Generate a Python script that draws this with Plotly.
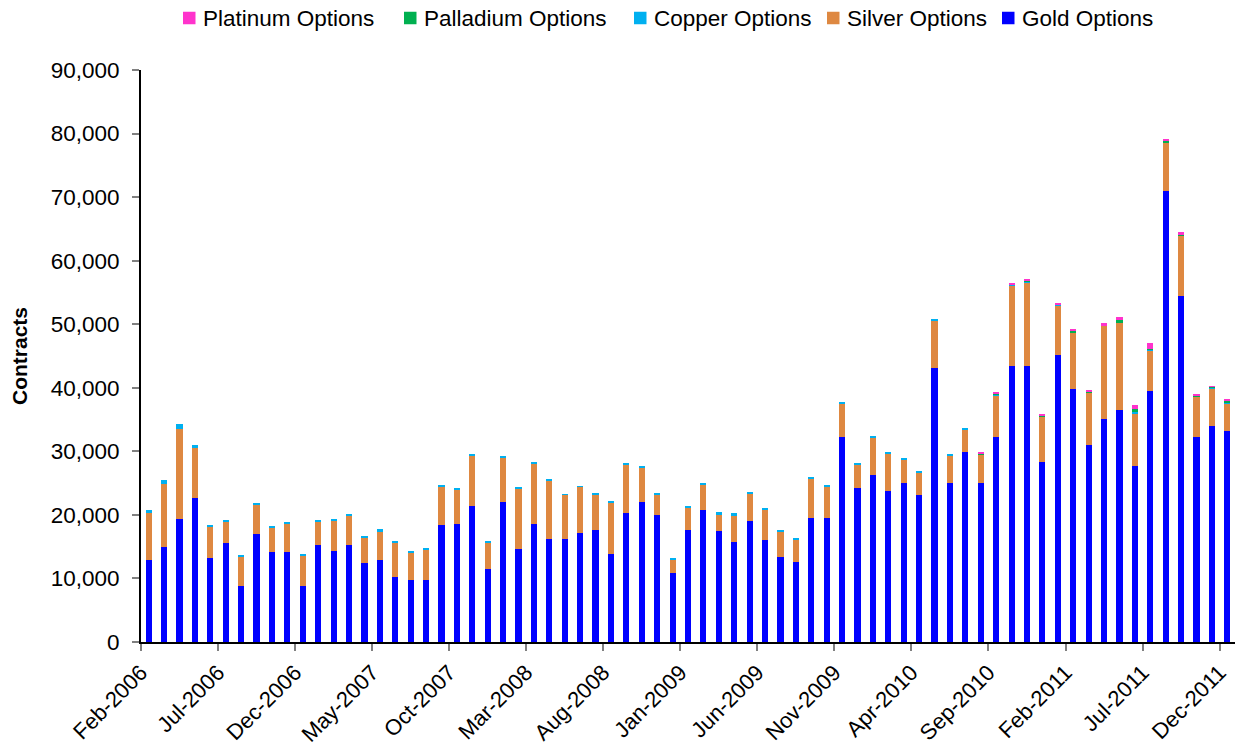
import plotly.graph_objects as go

months = ["Feb-2006", "Mar-2006", "Apr-2006", "May-2006", "Jun-2006", "Jul-2006", "Aug-2006", "Sep-2006", "Oct-2006", "Nov-2006", "Dec-2006",
          "Jan-2007", "Feb-2007", "Mar-2007", "Apr-2007", "May-2007", "Jun-2007", "Jul-2007", "Aug-2007", "Sep-2007", "Oct-2007", "Nov-2007", "Dec-2007",
          "Jan-2008", "Feb-2008", "Mar-2008", "Apr-2008", "May-2008", "Jun-2008", "Jul-2008", "Aug-2008", "Sep-2008", "Oct-2008", "Nov-2008", "Dec-2008",
          "Jan-2009", "Feb-2009", "Mar-2009", "Apr-2009", "May-2009", "Jun-2009", "Jul-2009", "Aug-2009", "Sep-2009", "Oct-2009", "Nov-2009", "Dec-2009",
          "Jan-2010", "Feb-2010", "Mar-2010", "Apr-2010", "May-2010", "Jun-2010", "Jul-2010", "Aug-2010", "Sep-2010", "Oct-2010", "Nov-2010", "Dec-2010",
          "Jan-2011", "Feb-2011", "Mar-2011", "Apr-2011", "May-2011", "Jun-2011", "Jul-2011", "Aug-2011", "Sep-2011", "Oct-2011", "Nov-2011", "Dec-2011"]

gold = [12900, 14950, 19300, 22650, 13270, 15630, 8860, 16940, 14210, 14210, 8860,
        15310, 14320, 15310, 12380, 12900, 10280, 9800, 9800, 18410, 18620, 21350, 11430,
        22080, 14690, 18620, 16260, 16260, 17150, 17670, 13850, 20250, 22080, 20030, 10910,
        17670, 20820, 17510, 15790, 19090, 16050, 13430, 12540, 19560, 19560, 32300, 24280,
        26270, 23710, 24960, 23130, 43110, 25000, 29940, 25000, 32300, 43450, 43450, 28270,
        45200, 39850, 31050, 35140, 36550, 27740, 39490, 71010, 54440, 32300, 33980, 33240]

silver = [7350, 9860, 14160, 7870, 4930, 3300, 4510, 4770, 3830, 4460, 4780,
          3680, 4770, 4620, 4140, 4560, 5350, 4250, 4780, 6030, 5350, 8020, 4200,
          6970, 9440, 9540, 9180, 6870, 7240, 5510, 8070, 7600, 5400, 3150, 2100,
          3520, 3930, 2580, 4190, 4250, 4770, 3880, 3510, 6090, 4830, 5190, 3620,
          5930, 5920, 3780, 3510, 7550, 4420, 3520, 4450, 6560, 12720, 13190, 7180,
          7820, 8850, 8230, 14620, 13690, 8290, 6400, 7550, 9540, 6300, 5870, 4360]

copper = [520, 630, 890, 530, 160, 210, 320, 160, 210, 160, 210,
          200, 260, 210, 210, 270, 260, 210, 260, 260, 160, 210, 260,
          210, 200, 210, 160, 50, 150, 210, 210, 310, 160, 210, 100,
          210, 210, 310, 270, 210, 160, 200, 160, 260, 260, 160, 210,
          160, 150, 160, 260, 210, 160, 160, 100, 50, 50, 150, 50,
          50, 50, 50, 0, 100, 100, 150, 100, 50, 50, 250, 50]

palladium = [0, 0, 0, 0, 0, 0, 0, 0, 0, 0, 0,
             0, 0, 0, 0, 0, 0, 0, 0, 0, 0, 0, 0,
             0, 0, 0, 0, 0, 0, 0, 0, 0, 0, 0, 0,
             0, 0, 0, 0, 0, 0, 0, 0, 0, 0, 0, 0,
             0, 0, 0, 0, 0, 0, 0, 80, 220, 50, 150, 170,
             50, 200, 50, 100, 260, 500, 100, 200, 50, 50, 50, 310]

platinum = [0, 0, 0, 0, 0, 0, 0, 0, 0, 0, 0,
            0, 0, 0, 0, 0, 0, 0, 0, 0, 0, 0, 0,
            0, 0, 0, 0, 0, 0, 0, 0, 0, 0, 0, 0,
            0, 0, 0, 0, 0, 0, 0, 0, 0, 0, 0, 0,
            0, 0, 0, 0, 0, 0, 0, 150, 200, 160, 120, 200,
            260, 190, 160, 280, 540, 720, 860, 280, 370, 320, 110, 270]

tick_labels = ["Feb-2006", "Jul-2006", "Dec-2006", "May-2007", "Oct-2007", "Mar-2008", "Aug-2008",
               "Jan-2009", "Jun-2009", "Nov-2009", "Apr-2010", "Sep-2010", "Feb-2011", "Jul-2011", "Dec-2011"]

x = list(range(len(months)))
tick_pos = [months.index(t) - 0.5 for t in tick_labels]

series = [
    ("Gold Options", gold, "#0000FF"),
    ("Silver Options", silver, "#DE8841"),
    ("Copper Options", copper, "#00B0F0"),
    ("Palladium Options", palladium, "#00B050"),
    ("Platinum Options", platinum, "#FF33CC"),
]

# the page body adds an 8px margin; the figure is placed so that it fills the window
OFF = 8
W, H = 1244 - 2 * OFF, 744 - OFF
ML, MR, MT, MB = 141 - OFF, 1, 70 - OFF, H - (642 - OFF)
PW = W - ML - MR
PH = H - MT - MB

fig = go.Figure()
for name, vals, col in series:
    fig.add_trace(go.Bar(x=x, y=vals, name=name, marker=dict(color=col, line=dict(width=0)),
                         customdata=months, showlegend=False,
                         hovertemplate="%{customdata}: %{y:,}<extra>" + name + "</extra>"))

font = "Liberation Sans, Arial, Helvetica, sans-serif"

# legend drawn in the top margin (page pixel positions converted to paper coords)
legend_left_px = [183, 404, 634, 827, 1002]   # square left edges, Platinum -> Gold
legend_y_px = 18
sq = 12.5
shapes = []
annotations = []
for (name, vals, col), lx in zip(reversed(series), legend_left_px):
    lx = lx - OFF
    ly = legend_y_px - OFF
    x0 = (lx - ML) / PW
    x1 = (lx + sq - ML) / PW
    y0 = (H - MB - (ly + sq / 2)) / PH
    y1 = (H - MB - (ly - sq / 2)) / PH
    shapes.append(dict(type="rect", xref="paper", yref="paper", x0=x0, x1=x1, y0=y0, y1=y1,
                       fillcolor=col, line=dict(width=0)))
    annotations.append(dict(text=name, xref="paper", yref="paper", x=(lx + sq + 5 - ML) / PW,
                            y=(H - MB - ly) / PH, xanchor="left", yanchor="middle",
                            showarrow=False, font=dict(size=22.5, color="black", family=font)))

fig.update_layout(
    barmode="stack",
    bargap=0.6,
    width=W, height=H,
    margin=dict(l=ML, r=MR, t=MT, b=MB, autoexpand=False),
    plot_bgcolor="white", paper_bgcolor="white",
    font=dict(family=font, size=22.5, color="black"),
    showlegend=False,
    shapes=shapes,
    annotations=annotations,
    xaxis=dict(range=[-0.5, len(months) - 0.5], tickmode="array", tickvals=tick_pos, ticktext=tick_labels,
               tickangle=-45, showline=True, linecolor="black", linewidth=2, ticks="outside",
               tickcolor="#808080", ticklen=7, tickwidth=2, showgrid=False, zeroline=False,
               tickfont=dict(size=22), automargin=False),
    yaxis=dict(range=[0, 90000], tickvals=[0, 10000, 20000, 30000, 40000, 50000, 60000, 70000, 80000, 90000],
               tickformat=",d", showline=True, linecolor="black", linewidth=2, ticks="outside",
               tickcolor="#808080", ticklen=7, tickwidth=2, showgrid=False, zeroline=False,
               tickfont=dict(size=22.5), ticklabelstandoff=8, automargin=False,
               title=dict(text="<b>Contracts</b>", font=dict(size=21), standoff=18)),
)

fig.write_html("out.html")
